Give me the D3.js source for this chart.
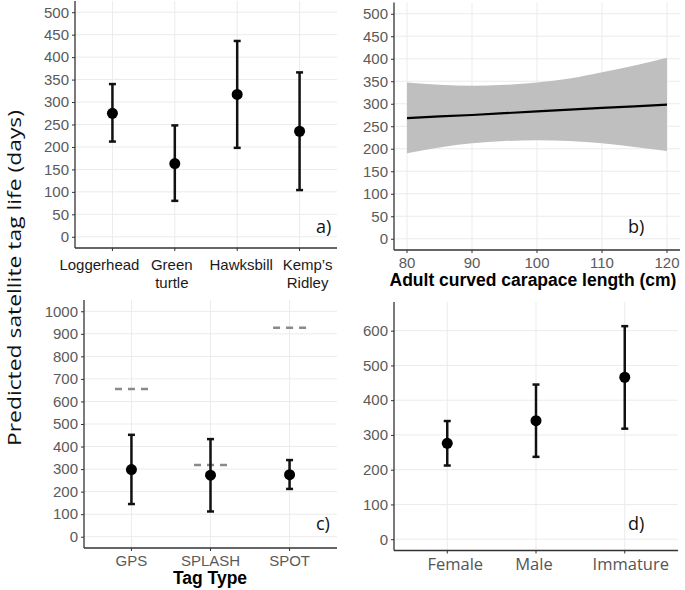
<!DOCTYPE html>
<html>
<head>
<meta charset="utf-8">
<script src="https://cdn.jsdelivr.net/npm/d3@7"></script>
<style>
  body { margin: 0; background: #fff; }
  svg { display: block; }
</style>
</head>
<body>
<svg id="chart" width="685" height="590"></svg>
<script>
// a) species
const speciesCats = ["Loggerhead", "Green turtle", "Hawksbill", "Kemp\u2019s Ridley"];
const speciesMean = [275, 163, 317, 235];
const speciesLo = [212, 80, 198, 104];
const speciesHi = [340, 248, 436, 366];

// b) curved carapace length
const cclX = [80, 85, 90, 95, 100, 105, 110, 115, 120];
const cclFit = [268, 272, 275, 279, 283, 287, 291, 294, 298];
const cclUpper = [347, 342, 340, 342, 347, 356, 370, 385, 402];
const cclLower = [190, 203, 212, 217, 219, 217, 212, 204, 195];

// c) tag type
const tagCats = ["GPS", "SPLASH", "SPOT"];
const tagMean = [298, 273, 275];
const tagLo = [145, 112, 212];
const tagHi = [452, 433, 340];
const tagRef = [655, 318, 927];

// d) class
const classCats = ["Female", "Male", "Immature"];
const classMean = [276, 341, 466];
const classLo = [212, 237, 318];
const classHi = [340, 445, 613];

const yTicksA = d3.range(0, 501, 50);
const xTicksB = [80, 90, 100, 110, 120];
const yTicksC = d3.range(0, 1001, 100);
const yTicksD = d3.range(0, 601, 100);

const svg = d3.select("#chart");
const sans = "'Liberation Sans', Arial, sans-serif";
const soft = "'Open Sans', sans-serif";
const tickGrey = "#5a5a5a";

function frame(g, x0, x1, y0, y1) {
    g.append("line").attr("x1", x0).attr("x2", x0).attr("y1", y0).attr("y2", y1)
        .attr("stroke", "#333").attr("stroke-width", 1.3);
    g.append("line").attr("x1", x0).attr("x2", x1).attr("y1", y1).attr("y2", y1)
        .attr("stroke", "#333").attr("stroke-width", 1.3);
}

function yAxis(g, y, ticks, x0, x1) {
    g.append("g").selectAll("line").data(ticks).enter().append("line")
        .attr("x1", x0).attr("x2", x1)
        .attr("y1", d => y(d)).attr("y2", d => y(d))
        .attr("stroke", "#ebebeb").attr("stroke-width", 1);
    const ax = g.append("g").attr("transform", "translate(" + x0 + ",0)")
        .call(d3.axisLeft(y).tickValues(ticks).tickFormat(d3.format("d"))
            .tickSize(3).tickPadding(3));
    ax.select(".domain").remove();
    ax.selectAll(".tick line").attr("stroke", "#333");
    ax.selectAll(".tick text").attr("fill", tickGrey)
        .style("font-family", sans).style("font-size", "15px");
}

function xGrid(g, x, vals, y0, y1) {
    g.append("g").selectAll("line").data(vals).enter().append("line")
        .attr("x1", d => x(d)).attr("x2", d => x(d))
        .attr("y1", y0).attr("y2", y1)
        .attr("stroke", "#ebebeb").attr("stroke-width", 1);
    g.append("g").selectAll("line").data(vals).enter().append("line")
        .attr("x1", d => x(d)).attr("x2", d => x(d))
        .attr("y1", y1).attr("y2", y1 + 3)
        .attr("stroke", "#333").attr("stroke-width", 1);
}

function errorBars(g, x, y, cats, mean, lo, hi) {
    const rows = cats.map((c, i) => ({c: c, m: mean[i], lo: lo[i], hi: hi[i]}));
    const bar = g.append("g").selectAll("g").data(rows).enter().append("g");
    bar.append("line")
        .attr("x1", d => x(d.c)).attr("x2", d => x(d.c))
        .attr("y1", d => y(d.lo)).attr("y2", d => y(d.hi))
        .attr("stroke", "#111").attr("stroke-width", 2.5);
    ["lo", "hi"].forEach(k => {
        bar.append("line")
            .attr("x1", d => x(d.c) - 3.5).attr("x2", d => x(d.c) + 3.5)
            .attr("y1", d => y(d[k])).attr("y2", d => y(d[k]))
            .attr("stroke", "#111").attr("stroke-width", 2.5);
    });
    bar.append("circle")
        .attr("cx", d => x(d.c)).attr("cy", d => y(d.m))
        .attr("r", 5.5).attr("fill", "#000");
}

function tag(g, label, x, y) {
    g.append("text").attr("x", x).attr("y", y)
        .style("font-family", soft).style("font-size", "18px")
        .attr("fill", "#111").text(label);
}

// ---- a) ----
{
    const g = svg.append("g");
    const x0 = 75, x1 = 337, y0 = 1, y1 = 248;
    const x = d3.scalePoint().domain(speciesCats).range([x0, x1]).padding(0.6);
    const y = d3.scaleLinear().domain([-25, 525]).range([y1, y0]);
    // labels in the original were nudged by hand
    const shift = [-13, -3, 4, 8];
    yAxis(g, y, yTicksA, x0, x1);
    xGrid(g, x, speciesCats, y0, y1);
    frame(g, x0, x1, y0, y1);
    const lab = g.append("g").selectAll("text").data(speciesCats).enter().append("text")
        .attr("text-anchor", "middle")
        .style("font-family", sans).style("font-size", "15px").attr("fill", "#1a1a1a");
    lab.each(function (d, j) {
        const parts = d.split(" ");
        const t = d3.select(this);
        parts.forEach((p, i) => {
            t.append("tspan").attr("x", x(d) + shift[j]).attr("y", 270 + i * 18).text(p);
        });
    });
    errorBars(g, x, y, speciesCats, speciesMean, speciesLo, speciesHi);
    tag(g, "a)", 316, 233);
}

// ---- b) ----
{
    const g = svg.append("g");
    const x0 = 394, x1 = 680, y0 = 2.5, y1 = 250;
    const x = d3.scaleLinear().domain([78, 122]).range([x0, x1]);
    const y = d3.scaleLinear().domain([-25, 525]).range([y1, y0]);
    yAxis(g, y, yTicksA, x0, x1);
    xGrid(g, x, xTicksB, y0, y1);
    const pts = cclX.map((v, i) => ({x: v, f: cclFit[i], u: cclUpper[i], l: cclLower[i]}));
    g.append("path").datum(pts)
        .attr("d", d3.area().curve(d3.curveMonotoneX)
            .x(d => x(d.x)).y0(d => y(d.l)).y1(d => y(d.u)))
        .attr("fill", "#bfbfbf");
    g.append("path").datum(pts)
        .attr("d", d3.line().x(d => x(d.x)).y(d => y(d.f)))
        .attr("fill", "none").attr("stroke", "#000").attr("stroke-width", 2.2);
    frame(g, x0, x1, y0, y1);
    g.append("g").selectAll("text").data(xTicksB).enter().append("text")
        .attr("x", d => x(d)).attr("y", 268).attr("text-anchor", "middle")
        .style("font-family", sans).style("font-size", "15px").attr("fill", tickGrey)
        .text(d => d);
    g.append("text").attr("x", 533).attr("y", 286).attr("text-anchor", "middle")
        .style("font-family", sans).style("font-size", "17.5px").style("font-weight", "bold")
        .attr("fill", "#000").text("Adult curved carapace length (cm)");
    tag(g, "b)", 628, 233);
}

// ---- c) ----
{
    const g = svg.append("g");
    const x0 = 84, x1 = 337, y0 = 300, y1 = 548;
    const x = d3.scalePoint().domain(tagCats).range([x0, x1]).padding(0.6);
    const y = d3.scaleLinear().domain([-50, 1050]).range([y1, y0]);
    yAxis(g, y, yTicksC, x0, x1);
    xGrid(g, x, tagCats, y0, y1);
    frame(g, x0, x1, y0, y1);
    const half = x.step() * 0.24;
    g.append("g").selectAll("line").data(tagCats).enter().append("line")
        .attr("x1", d => x(d) + 2.5 - half).attr("x2", d => x(d) + 2.5 + half)
        .attr("y1", (d, i) => y(tagRef[i])).attr("y2", (d, i) => y(tagRef[i]))
        .attr("stroke", "#8a8a8a").attr("stroke-width", 2.5)
        .attr("stroke-dasharray", "7,6");
    errorBars(g, x, y, tagCats, tagMean, tagLo, tagHi);
    g.append("g").selectAll("text").data(tagCats).enter().append("text")
        .attr("x", d => x(d)).attr("y", 566).attr("text-anchor", "middle")
        .style("font-family", sans).style("font-size", "15px").attr("fill", tickGrey)
        .text(d => d);
    g.append("text").attr("x", 210).attr("y", 584).attr("text-anchor", "middle")
        .style("font-family", sans).style("font-size", "17.5px").style("font-weight", "bold")
        .attr("fill", "#000").text("Tag Type");
    tag(g, "c)", 316, 530);
}

// ---- d) ----
{
    const g = svg.append("g");
    const x0 = 394, x1 = 678, y0 = 302, y1 = 550.5;
    const x = d3.scalePoint().domain(classCats).range([x0, x1]).padding(0.6);
    const y = d3.scaleLinear().domain([-32.5, 682.5]).range([y1, y0]);
    const shift = [8, -2, 6];
    yAxis(g, y, yTicksD, x0, x1);
    xGrid(g, x, classCats, y0, y1);
    frame(g, x0, x1, y0, y1);
    errorBars(g, x, y, classCats, classMean, classLo, classHi);
    g.append("g").selectAll("text").data(classCats).enter().append("text")
        .attr("x", (d, i) => x(d) + shift[i]).attr("y", 570).attr("text-anchor", "middle")
        .style("font-family", soft).style("font-size", "16.5px").attr("fill", "#555")
        .text(d => d);
    tag(g, "d)", 628, 530);
}

// shared y title
svg.append("text")
    .attr("transform", "translate(21,278) rotate(-90)")
    .attr("text-anchor", "middle")
    .attr("textLength", 336).attr("lengthAdjust", "spacingAndGlyphs")
    .style("font-family", soft).style("font-size", "19px").attr("fill", "#111")
    .text("Predicted satellite tag life (days)");
</script>
</body>
</html>
